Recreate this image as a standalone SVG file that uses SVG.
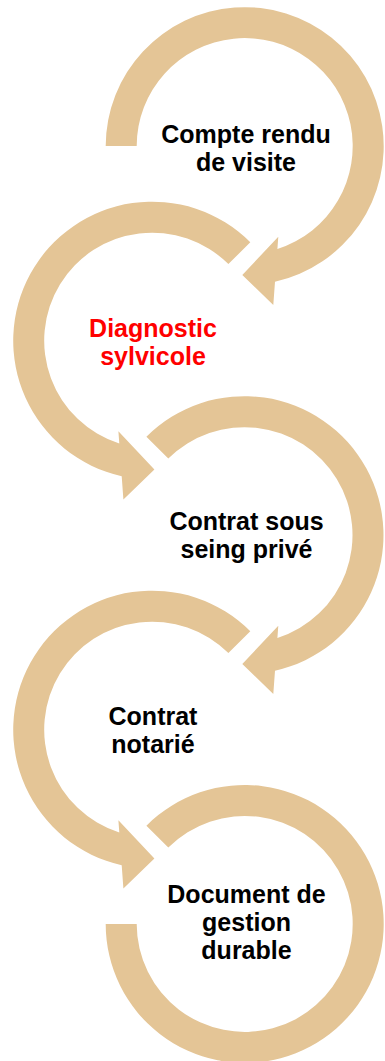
<svg xmlns="http://www.w3.org/2000/svg" width="385" height="1061" viewBox="0 0 385 1061">
<style>
.arc{fill:#E4C596;stroke:none}
.t{font-family:"Liberation Sans",Arial,sans-serif;font-weight:bold;font-size:25px;text-anchor:middle;fill:#000}
.red{fill:#FF0000}
</style>
<defs>
<path id="first" d="M -139 0 A 139 139 0 1 1 30.3 135.8 L 28.6 159 L -2.4 129 L 33.6 90.7 L 32.7 103 A 108 108 0 1 0 -108 0 Z"/>
<path id="mid" d="M -98.3 -98.3 A 139 139 0 1 1 30.3 135.8 L 28.6 159 L -2.4 129 L 33.6 90.7 L 32.7 103 A 108 108 0 1 0 -76.4 -76.4 Z"/>
<path id="last" d="M -98.3 -98.3 A 139 139 0 1 1 -139 0 L -108 0 A 108 108 0 1 0 -76.4 -76.4 Z"/>
</defs>
<g id="connectors">
<use href="#first" class="arc" transform="translate(244.7,146)"/>
<use href="#mid" class="arc" transform="translate(152,340.5) scale(-1,1)"/>
<use href="#mid" class="arc" transform="translate(244.7,535)"/>
<use href="#mid" class="arc" transform="translate(152,729.5) scale(-1,1)"/>
<use href="#last" class="arc" transform="translate(244.7,924)"/>
</g>
<g id="node1">
<text class="t" x="246" y="142.5">Compte rendu</text>
<text class="t" x="246" y="170.5">de visite</text>
</g>
<g id="node2">
<text class="t red" x="153" y="337">Diagnostic</text>
<text class="t red" x="153" y="365">sylvicole</text>
</g>
<g id="node3">
<text class="t" x="246.5" y="529.5">Contrat sous</text>
<text class="t" x="246.5" y="557.5">seing privé</text>
</g>
<g id="node4">
<text class="t" x="153" y="724.5">Contrat</text>
<text class="t" x="153" y="752.5">notarié</text>
</g>
<g id="node5">
<text class="t" x="246.5" y="902.5">Document de</text>
<text class="t" x="246.5" y="930.5">gestion</text>
<text class="t" x="246.5" y="958.5">durable</text>
</g>
</svg>
